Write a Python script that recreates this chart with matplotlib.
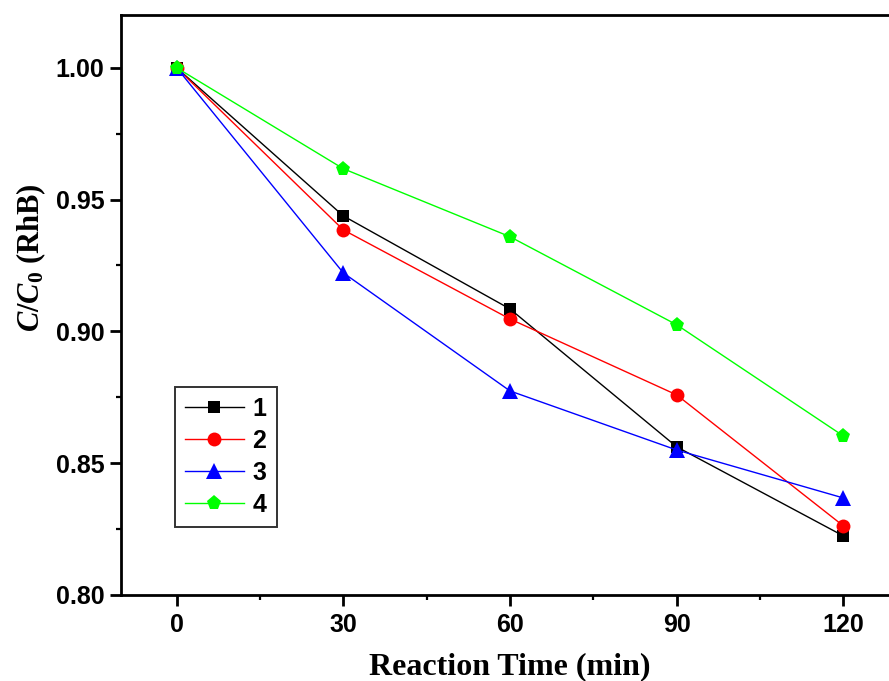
import matplotlib
matplotlib.use("Agg")
import matplotlib.pyplot as plt
from matplotlib.ticker import MultipleLocator

# Reaction time (min) and normalized RhB concentration for each sample
time_min = [0, 30, 60, 90, 120]
series_labels = ["1", "2", "3", "4"]
c_ratio_1 = [1.000, 0.9438, 0.9085, 0.8562, 0.8224]
c_ratio_2 = [1.000, 0.9385, 0.9047, 0.8759, 0.8262]
c_ratio_3 = [1.000, 0.9222, 0.8774, 0.8550, 0.8368]
c_ratio_4 = [1.000, 0.9617, 0.9359, 0.9025, 0.8603]
x_ticks = [0, 30, 60, 90, 120]
y_ticks = [0.80, 0.85, 0.90, 0.95, 1.00]

plt.rcParams["mathtext.fontset"] = "custom"
plt.rcParams["mathtext.it"] = "Liberation Serif:italic:bold"
plt.rcParams["mathtext.rm"] = "Liberation Serif:bold"

fig = plt.figure(figsize=(8.89, 6.81), dpi=100)
ax = fig.add_axes([121 / 889, 86 / 681, 778 / 889, 580 / 681])

styles = [
    ("black", "s", 8.7),
    ("red", "o", 10),
    ("blue", "^", 11),
    ("#00ff00", "p", 11),
]
for vals, lab, (col, mk, ms) in zip([c_ratio_1, c_ratio_2, c_ratio_3, c_ratio_4],
                                     series_labels, styles):
    ax.plot(time_min, vals, color=col, marker=mk, markersize=ms, linewidth=1.0,
            label=lab, markeredgewidth=0)

ax.set_xlim(-10, 130)
ax.set_ylim(0.80, 1.02)
ax.set_xticks(x_ticks)
ax.set_yticks(y_ticks)
ax.set_yticklabels([f"{v:.2f}" for v in y_ticks])
ax.xaxis.set_minor_locator(MultipleLocator(15))
ax.yaxis.set_minor_locator(MultipleLocator(0.025))

for sp in ax.spines.values():
    sp.set_linewidth(2.0)

ax.tick_params(which="major", direction="out", length=8, width=2.0)
ax.tick_params(axis="y", which="major", pad=4)
ax.tick_params(axis="x", which="major", pad=5)
ax.tick_params(which="minor", direction="out", length=3.5, width=1.6)
ax.tick_params(top=False, right=False, which="both")

for t in ax.get_xticklabels() + ax.get_yticklabels():
    t.set_fontfamily("Liberation Sans")
    t.set_fontweight("bold")
    t.set_fontsize(18)

ax.set_xlabel("Reaction Time (min)", fontfamily="Liberation Serif",
              fontweight="bold", fontsize=23)
ax.xaxis.set_label_coords(0.5, -(652 - 595) / 580)
ax.set_ylabel(r"$C/C_\mathit{0}$ (RhB)", fontfamily="Liberation Serif",
              fontweight="bold", fontsize=22)
ax.yaxis.set_label_coords(-(121 - 48) / 778, (595 - 258) / 580)

leg = ax.legend(loc="upper left", bbox_to_anchor=((175 - 121) / 778, (595 - 387) / 580),
                frameon=True, fancybox=False, edgecolor="black",
                prop={"family": "Liberation Sans", "weight": "bold", "size": 18},
                handlelength=2.35, handletextpad=0.35, borderpad=0.4,
                borderaxespad=0, labelspacing=0.32)
leg.get_frame().set_linewidth(1.4)

fig.savefig("out.png", dpi=100)
